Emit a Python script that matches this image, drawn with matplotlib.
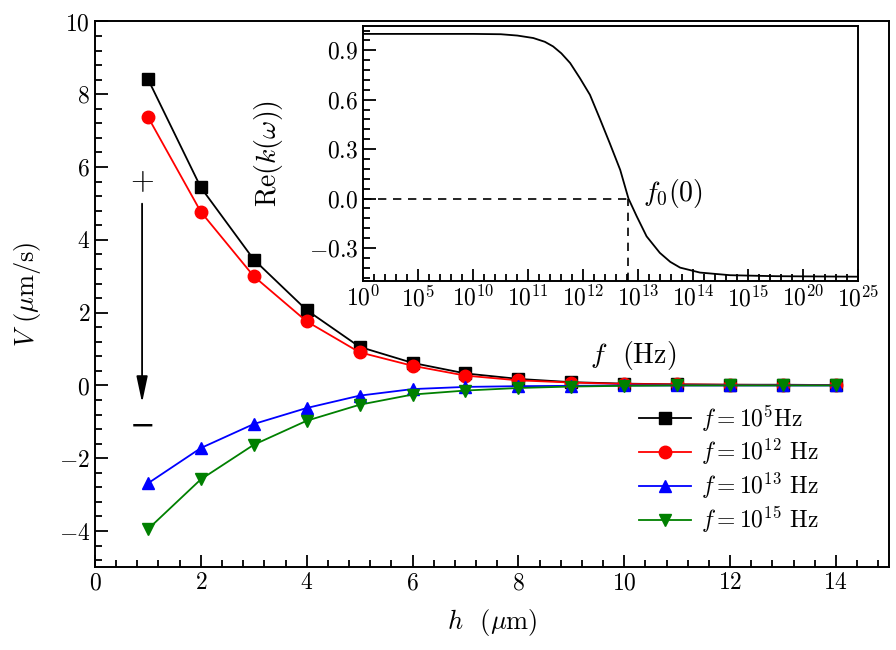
import numpy as np
import matplotlib
matplotlib.use("Agg")
import matplotlib.pyplot as plt
from matplotlib.ticker import MultipleLocator

plt.rcParams["font.family"] = ["cmr10", "DejaVu Serif"]
plt.rcParams["mathtext.fontset"] = "cm"
plt.rcParams["axes.formatter.use_mathtext"] = True
plt.rcParams["axes.unicode_minus"] = True

# main panel data
h = [1, 2, 3, 4, 5, 6, 7, 8, 9, 10, 11, 12, 13, 14]
v_1e5 = [8.42, 5.44, 3.46, 2.07, 1.06, 0.62, 0.33, 0.18, 0.09, 0.05, 0.03, 0.02, 0.02, 0.01]
v_1e12 = [7.38, 4.77, 3.00, 1.76, 0.91, 0.54, 0.27, 0.14, 0.08, 0.04, 0.03, 0.02, 0.01, 0.01]
v_1e13 = [-2.69, -1.72, -1.06, -0.62, -0.28, -0.10, -0.04, -0.02, -0.01, 0.0, 0.0, 0.0, 0.0, 0.0]
v_1e15 = [-3.95, -2.58, -1.63, -0.97, -0.53, -0.25, -0.14, -0.07, -0.03, -0.01, 0.0, 0.0, 0.0, 0.0]
labels = [r"$f=10^5$Hz", r"$f=10^{12}$ Hz", r"$f=10^{13}$ Hz", r"$f=10^{15}$ Hz"]
colors = ["black", "red", "blue", "green"]
markers = ["s", "o", "^", "v"]

# inset data (x = index on the uneven frequency axis)
f_ticks = [r"$10^{0}$", r"$10^{5}$", r"$10^{10}$", r"$10^{11}$", r"$10^{12}$",
           r"$10^{13}$", r"$10^{14}$", r"$10^{15}$", r"$10^{20}$", r"$10^{25}$"]
f_idx = [0.0, 1.0, 2.0, 2.5, 2.8, 3.09, 3.3, 3.45, 3.6, 3.76, 3.94, 4.12, 4.30, 4.48,
         4.67, 4.82, 4.97, 5.15, 5.39, 5.58, 5.76, 6.12, 6.67, 7.5, 9.0]
re_k = [1.0, 1.0, 1.0, 0.998, 0.99, 0.975, 0.952, 0.924, 0.882, 0.823, 0.73, 0.63, 0.485,
        0.336, 0.174, 0.0, -0.108, -0.23, -0.33, -0.385, -0.42, -0.45, -0.466, -0.472, -0.475]
f0_idx = 4.82

fig = plt.figure(figsize=(8.96, 6.5), dpi=100)
ax = fig.add_axes([0.106, 0.127, 0.886, 0.840])

for y, c, m, lab in zip([v_1e5, v_1e12, v_1e13, v_1e15], colors, markers, labels):
    ax.plot(h, y, color=c, marker=m, markersize=9, lw=1.3, label=lab)

ax.set_xlim(0, 15)
ax.set_ylim(-5, 10)
ax.xaxis.set_major_locator(MultipleLocator(2))
ax.xaxis.set_minor_locator(MultipleLocator(0.4))
ax.yaxis.set_major_locator(MultipleLocator(2))
ax.yaxis.set_minor_locator(MultipleLocator(0.4))
ax.tick_params(which="both", direction="in", top=False, right=False, labelsize=17, width=1.3)
ax.tick_params(which="major", length=9)
ax.tick_params(which="minor", length=5)
for s in ax.spines.values():
    s.set_linewidth(1.4)
ax.set_xlabel(r"$h$  ($\mu$m)", fontsize=19)
ax.set_ylabel(r"$V$ ($\mu$m/s)", fontsize=19)
ax.xaxis.set_label_coords(0.5, -0.072)
ax.yaxis.set_label_coords(-0.065, 0.5)

ax.legend(loc="upper left", bbox_to_anchor=(0.671, 0.322), frameon=False, fontsize=17,
          borderpad=0, handlelength=2.2, handletextpad=0.4, labelspacing=0.15)

# sign-change arrow
ax.text(0.89, 5.62, "+", fontsize=22, ha="center", va="center")
ax.text(0.89, -1.13, "\u2212", fontsize=22, ha="center", va="center")
ax.annotate("", xy=(0.89, -0.55), xytext=(0.89, 5.07),
            arrowprops=dict(arrowstyle="-|>,head_length=0.8,head_width=0.17",
                            mutation_scale=20, color="black", lw=1.3))

# inset
ins = fig.add_axes([0.4055, 0.568, 0.5525, 0.3925])
ins.plot(f_idx, re_k, color="black", lw=1.3)
ins.plot([0, f0_idx], [0, 0], color="black", lw=1.2, ls=(0, (5, 4)))
ins.plot([f0_idx, f0_idx], [-0.5, 0], color="black", lw=1.2, ls=(0, (5, 4)))
ins.text(5.08, 0.03, r"$f_0(0)$", fontsize=20, ha="left", va="center")
ins.set_xlim(0, 9)
ins.set_ylim(-0.5, 1.05)
ins.set_xticks(range(len(f_ticks)))
ins.set_xticklabels(f_ticks)
ins.xaxis.set_minor_locator(MultipleLocator(0.2))
ins.yaxis.set_major_locator(MultipleLocator(0.3))
ins.yaxis.set_minor_locator(MultipleLocator(0.06))
ins.tick_params(which="both", direction="in", top=False, right=False, labelsize=17, width=1.3)
ins.tick_params(which="major", length=9)
ins.tick_params(which="minor", length=5)
for s in ins.spines.values():
    s.set_linewidth(1.4)
ins.set_xlabel("$f$  (Hz)", fontsize=20)
ins.xaxis.set_label_coords(0.545, -0.23)
ins.set_ylabel(r"$\mathrm{Re}(k(\omega))$", fontsize=20)
ins.yaxis.set_label_coords(-0.158, 0.5)

fig.savefig("out.png", dpi=100)
